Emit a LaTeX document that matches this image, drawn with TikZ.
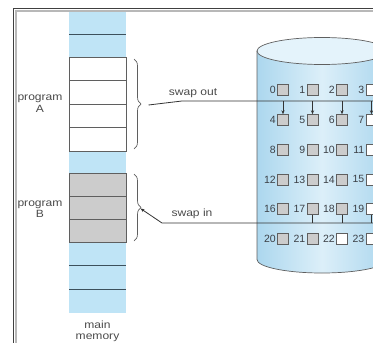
\documentclass[tikz,border=0pt]{standalone}
\usepackage{fontspec}
\setmainfont{Liberation Sans}
\usetikzlibrary{decorations.pathreplacing,arrows.meta}

\definecolor{memblue}{RGB}{191,228,246}
\definecolor{cylside}{RGB}{172,215,238}
\definecolor{cylmid}{RGB}{220,239,249}
\definecolor{cyltop}{RGB}{228,243,251}
\definecolor{blockgray}{RGB}{204,204,204}
\definecolor{edgegray}{RGB}{95,95,95}
\definecolor{sepline}{RGB}{60,80,92}
\definecolor{txt}{RGB}{74,74,74}
\definecolor{numtxt}{RGB}{60,64,70}

\begin{document}
\begin{tikzpicture}[x=1pt,y=-1pt,
  memcell/.style={draw=edgegray, line width=0.7pt, minimum width=57pt,
    inner sep=0pt, outer sep=0pt, anchor=north west},
  blk/.style={draw=edgegray, line width=0.7pt, minimum size=11pt,
    inner sep=0pt, outer sep=0pt, fill=blockgray},
  freeblk/.style={blk, fill=white},
  num/.style={anchor=east, inner sep=0pt, text=numtxt,
    font=\fontsize{10.5}{11}\selectfont},
  lbl/.style={text=txt, align=center, inner sep=0pt, xscale=1.15,
    font=\fontsize{10.5}{11.5}\selectfont},
  grpbrace/.style={draw=edgegray, line width=0.7pt,
    decorate, decoration={brace, amplitude=7pt}},
  bus/.style={draw=black!80, line width=0.8pt},
  tip/.style={-{Stealth[length=4pt,width=3.2pt]}}
]
\useasboundingbox (0,0) rectangle (373,343);
\clip (0,0) rectangle (373,343);

% page frame
\draw[line width=1.6pt, black!75] (13.5,343) -- (13.5,8.5) -- (373,8.5);
\draw[line width=1.6pt, black!28] (16,343) -- (16,11.2) -- (373,11.2);

% ---- main memory column ----
\fill[memblue] (69,12) rectangle (126,313);
\draw[sepline, line width=0.7pt] (69,34) -- (126,34);
\draw[sepline, line width=0.7pt] (69,265) -- (126,265);
\draw[sepline, line width=0.7pt] (69,289) -- (126,289);

% program A (four white pages)
\node[memcell, fill=white, minimum height=23.5pt] (a1) at (69,57) {};
\node[memcell, fill=white, minimum height=23.5pt] (a2) at (69,80.5) {};
\node[memcell, fill=white, minimum height=23.5pt] (a3) at (69,104) {};
\node[memcell, fill=white, minimum height=23.5pt] (a4) at (69,127.5) {};
% program B (three gray pages)
\node[memcell, fill=blockgray, minimum height=23pt] (b1) at (69,173) {};
\node[memcell, fill=blockgray, minimum height=23pt] (b2) at (69,196) {};
\node[memcell, fill=blockgray, minimum height=23pt] (b3) at (69,219) {};

\node[lbl] (pa) at (40,103.5) {program\\A};
\node[lbl] (pb) at (40,209) {program\\B};
\node[lbl] (mm) at (97.5,331.5) {main\\memory};

% braces grouping each program
\draw[grpbrace] (134,59) -- (134,149);
\draw[grpbrace] (134,174) -- (134,241);
\coordinate (tipA) at (148.5,105);
\coordinate (tipB) at (140.5,208.5);

% ---- backing store cylinder ----
\shade[left color=cylside, right color=cylside, middle color=cylmid]
  (257,51) -- (257,259.5)
  arc[start angle=180, end angle=0, x radius=65, y radius=13.5]
  -- (387,51) -- cycle;
\draw[edgegray, line width=0.7pt] (257,51) -- (257,259.5)
  arc[start angle=180, end angle=0, x radius=65, y radius=13.5]
  -- (387,51);
\draw[edgegray, line width=0.7pt, fill=cyltop] (322,51)
  ellipse[x radius=65, y radius=13.5];

% numbered blocks on the store
\foreach \r in {0,...,5}{
  \foreach \c/\cx in {0/283,1/312.5,2/342,3/371.5}{
    \pgfmathtruncatemacro{\n}{4*\r+\c}
    \pgfmathsetmacro{\cy}{90+29.8*\r}
    \ifnum\n=3 \def\bs{freeblk}\else
    \ifnum\n=7 \def\bs{freeblk}\else
    \ifnum\n=11 \def\bs{freeblk}\else
    \ifnum\n=15 \def\bs{freeblk}\else
    \ifnum\n=19 \def\bs{freeblk}\else
    \ifnum\n=22 \def\bs{freeblk}\else
    \ifnum\n=23 \def\bs{freeblk}\else
    \def\bs{blk}\fi\fi\fi\fi\fi\fi\fi
    \node[\bs] (d\n) at (\cx,\cy) {};
    \node[num] (n\n) at ([xshift=-1.5pt]d\n.west) {\n};
  }
}

% swap out
\coordinate (so) at (373,101);
\coordinate (sobend) at (182,101);
\draw[bus] (tipA) -- (sobend) -- (so);
\foreach \k in {4,5,6,7}{
  \draw[bus, tip] (d\k.north |- so) -- (d\k.north);
}
\node[lbl] (solbl) at (193,93) {swap out};

% swap in
\coordinate (si) at (373,223);
\coordinate (sibend) at (162,223);
\draw[bus, tip] (si) -- (sibend) -- (tipB);
\foreach \k in {17,18,19}{
  \draw[bus] (d\k.south) -- (d\k.south |- si);
}
\node[lbl] (silbl) at (192,214) {swap in};
\end{tikzpicture}
\end{document}
